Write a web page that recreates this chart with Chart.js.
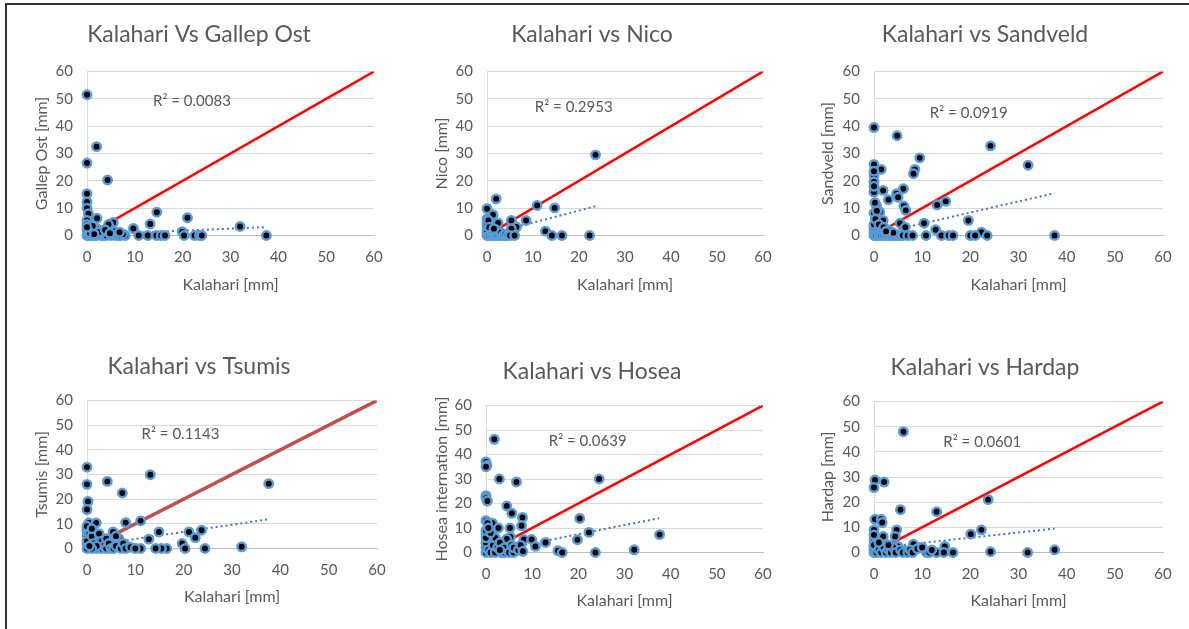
<!DOCTYPE html>
<html>
<head>
<meta charset="utf-8">
<script src="https://cdn.jsdelivr.net/npm/chart.js@4.4.1/dist/chart.umd.min.js"></script>
<style>
  html, body { margin: 0; padding: 0; background: #fff; }
  body { width: 1189px; height: 629px; position: relative; overflow: hidden; }
  #frame { position: absolute; left: 5px; top: 3px; right: -5px; bottom: -5px;
           border-top: 2px solid #333; border-left: 2px solid #333; }
  .box { position: absolute; }
</style>
</head>
<body>
<div id="frame"></div>

<script>
// Kalahari [mm] vs station [mm]
const gallepOst = [
  [0,51.5],[2,32.5],[0,26.5],[4.3,20.3],[0,15.3],[0,12.3],[0,10],[0.3,8],[2.1,6.3],[0,5.5],
  [5.5,4.8],[4.5,4],[14.6,8.5],[13.2,4.2],[21,6.5],[9.7,2.6],[19.9,1.4],[32,3.3],[37.5,0],
  [0,0],[0.5,0],[1,0],[1.5,0],[2,0],[3,0],[3.5,0],[4,0],[5,0],[6,0],[6.5,0],[7,0],[8,0],
  [10.8,0],[12.7,0],[14.5,0],[15.5,0],[16.3,0],[20.3,0],[22.5,0],[23.5,0],[24,0],
  [0,2],[0.3,3],[1,1.5],[2,2.5],[3,1],[5.7,1.5],[7.5,0.5],[0,4],[1.2,3.5],[2.5,1.2],
  [3.8,2],[0.6,1],[4.8,0.8],[6.8,1.2],[0,3],[1.5,0.5]
];
const nico = [
  [23.6,29.5],[2,13.4],[10.9,11],[14.7,10.1],[0,9.8],[1.3,7.6],[0,6.1],[2.4,4.6],[5.3,5.5],
  [8.5,5.5],[6.4,3.1],[5.3,2.5],[12.7,1.6],[14.1,0],[16.3,0],[22.3,0],
  [0,0],[0,1],[0,2],[0,3.5],[0,4.5],[0.5,0],[1,0],[1,1.5],[1.5,0],[2,0],[2,2],[2.5,0],
  [3,0],[3,1],[3.5,0],[4,0],[4,0.5],[4.5,0],[5,0],[6,0],[0.3,5.5],[0.5,3],[1.5,2.5]
];
const sandveld = [
  [0,39.5],[4.8,36.5],[24.2,32.8],[9.5,28.4],[32,25.7],[0,26],[1.5,24.2],[8.5,24.2],[8.2,22.6],
  [0,22],[0,19.6],[6.1,17.1],[1.9,16.5],[0,15.9],[4.7,15.3],[5,14],[3,13.1],[14.9,12.5],
  [13.1,11.2],[6.2,10.8],[6.6,9.2],[1.2,8.6],[0,8.2],[19.6,5.5],[1.9,5.5],[5.4,4.5],[10.4,4.5],
  [12.8,2.1],[22.3,1.2],[37.5,0],
  [10.8,0],[14,0],[15.5,0],[16.4,0],[20,0],[21,0],[23.5,0],
  [0,0],[0,1],[0,2],[0,3],[0,4],[0.5,0],[1,0],[1.5,0],[2,0],[2.5,0],[3,0],[3.5,0],[4,0],
  [4.5,0],[5,0],[5.5,0],[6,0],[7,0],[8,0],
  [0.3,6],[0.5,11],[1,4],[2,3],[3,2],[4,1],[0.2,12],[0.6,9],[2.5,1.5],[6.5,3],[0,18],[0,23.5]
];
const tsumis = [
  [0,33],[0,26],[4.2,27.2],[13.1,29.9],[37.6,26.3],[7.3,22.5],[0.2,19.1],[0,15.8],[11.1,11.2],
  [8,10.5],[0.4,10.4],[1.9,10.4],[14.9,6.7],[5.4,6.7],[21.1,6.7],[23.7,7.4],[22.4,4.4],
  [12.8,3.8],[19.7,2],[32,0.7],[24.4,0],[20.3,0],[16.5,0],[15.4,0],[14.2,0],[11.1,0],
  [6.6,4],[1.9,4],[0,5],[8.5,0.7],
  [0,0],[0,2],[0,3],[0,7],[0,8],[0,9],[0.5,6],[1,5],[1,8],[1.5,2],[2,0],[2.5,6],[3,0],
  [3,3],[3.5,1],[4,0],[4,4],[4.5,2],[5,0],[5.5,0],[6,1],[7,0],[7.5,2],[8,0],[9,0.5],
  [10,0],[2,1],[1,0],[0.5,1],[6,5]
];
const hosea = [
  [1.8,46.2],[0,37],[0.2,35.5],[0,35],[2.9,30],[24.5,30],[6.6,28.8],[0,23.2],[0,22.2],
  [0.3,21],[4.5,19],[5.6,16],[7.9,14.3],[20.3,13.9],[0,13],[1.4,12],[0.3,12],[7.7,10.9],
  [2.7,10],[5.2,10],[22.3,8.2],[0,7.5],[37.6,7.3],[5.3,6.3],[4.5,5.5],[8.2,5.3],[9.9,5.3],
  [19.8,5.2],[1,4.1],[12.9,4.1],[10.7,2.5],[15.6,0.7],[16.5,0],[23.7,0],[32.1,1.1],[3.4,0],
  [0,0],[0,2],[0,4],[0,6],[0,9],[0.5,1],[1,0],[1.5,3],[2,0],[2,6],[2.5,2],[3,4],[4,0],
  [4,2],[5,0],[5.5,3],[6,0],[6,2],[7,1],[7.5,3],[8,0.5],[1,8],[0.5,10],[3,1]
];
const hardap = [
  [6.1,48],[0.2,28.8],[2.1,28],[0,25.8],[23.7,21],[5.5,17],[13,16.2],[0.2,13.2],[1.5,13.2],
  [1.7,11.9],[22.3,9],[0,9],[4.7,9],[20.1,7.3],[1.9,6.4],[4.4,6.4],[0,5],[8.2,3.3],[5,2.4],
  [37.5,1.1],[14.7,2.4],[24.2,0.3],[31.9,0],[10.9,0],[13,0],[14.5,0],[16.4,0],[6.4,0.7],
  [0,0],[0,1],[0,2],[0,3],[0,7],[0.5,0],[1,1],[1.5,0],[2,2],[2.5,0],[3,1],[3.5,0],[4,2],
  [4.5,0],[5.5,1],[6,0],[7,0],[7.5,1],[8,0],[9,1.5],[10,2],[11.5,0],[12,1],[1,4],[3,3]
];

// linear trendline end points (as drawn in the picture)
const gallepOstTrend = [[0,0.2],[37.5,3.1]];
const nicoTrend      = [[0,0.3],[23.6,10.7]];
const sandveldTrend  = [[0,0.3],[37.5,15.5]];
const tsumisTrend    = [[0,1],[37.5,11.8]];
const hoseaTrend     = [[0,0],[37.5,14]];
const hardapTrend    = [[0,1.7],[37.5,9.5]];

const r2Values = ['0.0083', '0.2953', '0.0919', '0.1143', '0.0639', '0.0601'];
const oneToOne = [0, 60];

const panels = [
  { title: 'Kalahari Vs Gallep Ost', yTitle: 'Gallep Ost [mm]', data: gallepOst, trend: gallepOstTrend,
    r2At: [13.8, 49], line: '#ff0000', lineW: 2.5,
    l: 87, r: 374, t: 71, b: 235, titleCX: 205, titleY: 34, xTitleY: 284, yTitleX: 42 },
  { title: 'Kalahari vs Nico', yTitle: 'Nico [mm]', data: nico, trend: nicoTrend,
    r2At: [10.4, 47], line: '#ff0000', lineW: 2.5,
    l: 487, r: 763, t: 71, b: 235, titleCX: 598, titleY: 34, xTitleY: 284, yTitleX: 442 },
  { title: 'Kalahari vs Sandveld', yTitle: 'Sandveld [mm]', data: sandveld, trend: sandveldTrend,
    r2At: [11.6, 44.6], line: '#ff0000', lineW: 2.5,
    l: 874, r: 1163, t: 71, b: 235, titleCX: 991, titleY: 34, xTitleY: 284, yTitleX: 828 },
  { title: 'Kalahari vs Tsumis', yTitle: 'Tsumis [mm]', data: tsumis, trend: tsumisTrend,
    r2At: [11.3, 46.2], line: '#c0504d', lineW: 3.5,
    l: 87, r: 377, t: 400, b: 548, titleCX: 205, titleY: 366, xTitleY: 596, yTitleX: 42 },
  { title: 'Kalahari vs Hosea', yTitle: 'Hosea internation [mm]', data: hosea, trend: hoseaTrend,
    r2At: [13.6, 45.3], line: '#ff0000', lineW: 2.5,
    l: 486, r: 763, t: 405, b: 552, titleCX: 598, titleY: 371, xTitleY: 600, yTitleX: 442 },
  { title: 'Kalahari vs Hardap', yTitle: 'Hardap [mm]', data: hardap, trend: hardapTrend,
    r2At: [14.4, 44], line: '#ff0000', lineW: 2.5,
    l: 874, r: 1163, t: 401, b: 552, titleCX: 991, titleY: 367, xTitleY: 600, yTitleX: 828 }
];

const grey = '#595959';
const fontFamily = 'Lato, "Open Sans", sans-serif';

// R² text drawn at a data position
const r2Label = {
  id: 'r2Label',
  afterDatasetsDraw(chart, args, opts) {
    const { ctx, scales } = chart;
    ctx.save();
    ctx.font = '15px ' + fontFamily;
    ctx.fillStyle = grey;
    ctx.textBaseline = 'middle';
    ctx.fillText(opts.text, scales.x.getPixelForValue(opts.at[0]), scales.y.getPixelForValue(opts.at[1]));
    ctx.restore();
  }
};

panels.forEach((p, i) => {
  const rightPad = 12;
  const right = p.r + rightPad;
  const left = 2 * p.titleCX - right;
  const titleSize = 23, titlePadTop = 8;
  const top = p.titleY - titlePadTop - titleSize / 2;
  const bottom = p.xTitleY + 11;
  const yAxisW = p.l - left;
  const xAxisH = bottom - p.b;

  const box = document.createElement('div');
  box.className = 'box';
  box.style.left = left + 'px';
  box.style.top = top + 'px';
  box.style.width = (right - left) + 'px';
  box.style.height = (bottom - top) + 'px';
  const canvas = document.createElement('canvas');
  box.appendChild(canvas);
  document.body.appendChild(box);

  new Chart(canvas, {
    type: 'scatter',
    data: {
      datasets: [
        {
          label: 'points',
          data: p.data.map(d => ({ x: d[0], y: d[1] })),
          backgroundColor: '#000',
          borderColor: '#5b9bd5',
          borderWidth: 2.5,
          pointRadius: 4.2,
          clip: false
        },
        {
          label: 'trend',
          data: p.trend.map(d => ({ x: d[0], y: d[1] })),
          showLine: true,
          borderColor: '#4472c4',
          borderWidth: 2,
          borderDash: [2, 3],
          pointRadius: 0
        },
        {
          label: '1:1',
          data: oneToOne.map(v => ({ x: v, y: v })),
          showLine: true,
          borderColor: p.line,
          borderWidth: p.lineW,
          pointRadius: 0
        }
      ]
    },
    options: {
      responsive: true,
      maintainAspectRatio: false,
      animation: false,
      devicePixelRatio: 1,
      layout: { padding: { top: 0, left: 0, bottom: 0, right: rightPad } },
      plugins: {
        legend: { display: false },
        tooltip: { enabled: false },
        title: {
          display: true,
          text: p.title,
          color: grey,
          font: { family: fontFamily, size: titleSize, weight: 'normal', lineHeight: 1 },
          padding: { top: titlePadTop, bottom: p.t - top - titlePadTop - titleSize }
        },
        r2Label: { text: 'R² = ' + r2Values[i], at: p.r2At }
      },
      scales: {
        x: {
          type: 'linear',
          min: 0, max: 60,
          ticks: { stepSize: 10, color: grey, padding: 13, font: { family: fontFamily, size: 15 } },
          grid: { display: false, drawTicks: false },
          border: { display: true, color: '#bfbfbf', width: 1 },
          title: { display: true, text: 'Kalahari [mm]', color: grey,
                   font: { family: fontFamily, size: 16, lineHeight: 1 }, padding: { top: 0, bottom: 3 } },
          afterFit(s) { s.height = xAxisH; s.paddingLeft = 0; s.paddingRight = 0; }
        },
        y: {
          type: 'linear',
          min: 0, max: 60,
          ticks: { stepSize: 10, color: grey, padding: 14, font: { family: fontFamily, size: 15 } },
          grid: { color: '#d9d9d9', drawTicks: false },
          border: { display: true, color: '#d9d9d9', width: 1 },
          title: { display: true, text: p.yTitle, color: grey,
                   font: { family: fontFamily, size: 16, lineHeight: 1 },
                   padding: { top: p.yTitleX - left - 8, bottom: 0 } },
          afterFit(s) { s.width = yAxisW; s.paddingTop = 0; }
        }
      }
    },
    plugins: [r2Label]
  });
});
</script>
</body>
</html>
